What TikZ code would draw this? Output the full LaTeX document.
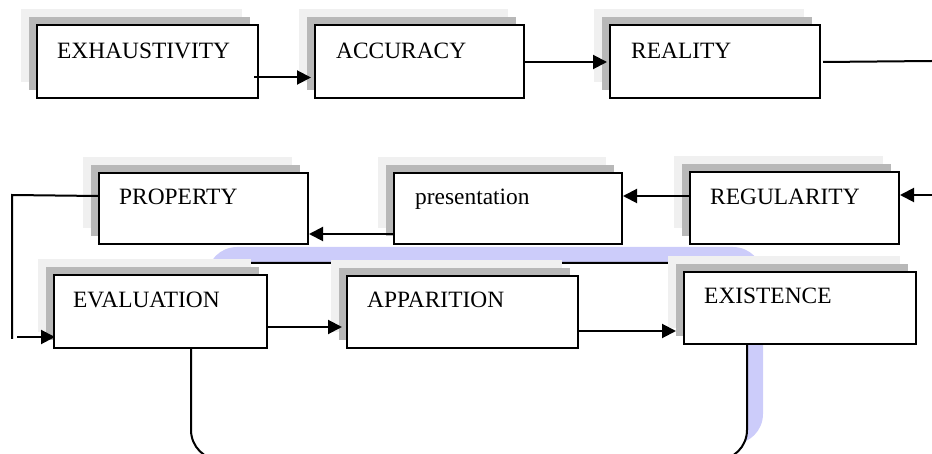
\documentclass[tikz,border=0pt]{standalone}
\usepackage{fontspec}
\setmainfont{Liberation Serif}
\usetikzlibrary{arrows.meta,shadows,calc}
\definecolor{shlight}{HTML}{F0F0F0}
\definecolor{shdark}{HTML}{B8B8B8}
\definecolor{hilite}{RGB}{204,204,250}
\tikzset{
  box/.style={draw=black, line width=2pt, fill=white, rectangle, inner sep=0pt, anchor=north west,
    general shadow={fill=shlight, shadow xshift=-16pt, shadow yshift=16pt},
    general shadow={fill=shdark, shadow xshift=-8pt, shadow yshift=8pt}},
  lbl/.style={anchor=base west, inner sep=0pt, font=\fontsize{23.4}{28}\selectfont},
  conn/.style={line width=2pt},
  arr/.style={conn, -{Triangle[length=14pt,width=14pt]}},
}
\begin{document}
\begin{tikzpicture}[x=1pt,y=-1pt]
\useasboundingbox (0,0) rectangle (932,454);
% highlighted rounded frame
\fill[hilite, rounded corners=30pt] (207,247) rectangle (763,444);
\draw[line width=2pt, fill=white, rounded corners=30pt] (191,263) rectangle (747,460);
% boxes
\node[box, minimum width=221pt, minimum height=73pt] (ex)  at (36,24) {};
\node[box, minimum width=209pt, minimum height=73pt] (acc) at (314,24) {};
\node[box, minimum width=210pt, minimum height=73pt] (rea) at (609,24) {};
\node[box, minimum width=209pt, minimum height=71pt] (prop) at (98,172) {};
\node[box, minimum width=228pt, minimum height=71pt] (pres) at (393,172) {};
\node[box, minimum width=209pt, minimum height=72pt] (reg) at (689,171) {};
\node[box, minimum width=213pt, minimum height=73pt] (eva) at (53,274) {};
\node[box, minimum width=231pt, minimum height=72pt] (app) at (346,275) {};
\node[box, minimum width=232pt, minimum height=72pt] (exi) at (683,271) {};
% labels
\node[lbl] (exT)   at ([xshift=21pt,yshift=-35pt]ex.north west) {EXHAUSTIVITY};
\node[lbl] (accT)  at ([xshift=22pt,yshift=-35pt]acc.north west) {ACCURACY};
\node[lbl] (reaT)  at ([xshift=22pt,yshift=-35pt]rea.north west) {REALITY};
\node[lbl] (propT) at ([xshift=21pt,yshift=-33pt]prop.north west) {PROPERTY};
\node[lbl] (presT) at ([xshift=22pt,yshift=-33pt]pres.north west) {presentation};
\node[lbl] (regT)  at ([xshift=21pt,yshift=-34pt]reg.north west) {REGULARITY};
\node[lbl] (evaT)  at ([xshift=20pt,yshift=-34pt]eva.north west) {EVALUATION};
\node[lbl] (appT)  at ([xshift=21pt,yshift=-33pt]app.north west) {APPARITION};
\node[lbl] (exiT)  at ([xshift=21pt,yshift=-33pt]exi.north west) {EXISTENCE};
% free ends
\coordinate (r1) at (932,61);
\coordinate (r2) at (932,195);
\coordinate (l1) at (12,195);
\coordinate (l2) at (12,339);
\coordinate (l3) at (17,337);
% connectors
\draw[arr, shorten >=3pt] ([xshift=-5pt,yshift=-16pt]ex.east) -- ([yshift=-16pt]acc.west);
\draw[arr, shorten >=2pt] ([yshift=-0.5pt]acc.east) -- ([yshift=-0.5pt]rea.west);
\draw[conn] ([xshift=2pt,yshift=-0.5pt]rea.east) -- (r1);
\draw[arr] (r2) -- (r2 -| reg.east);
\draw[arr] ([yshift=12pt]reg.west) -- ([yshift=12pt]reg.west -| pres.east);
\draw[arr] ([yshift=-25.5pt]pres.west) -- ([yshift=-25.5pt]pres.west -| prop.east);
\draw[conn] ([yshift=12.5pt]prop.west) -- (l1) -- (l2);
\draw[arr, shorten >=-2pt] (l3) -- (l3 -| eva.west);
\draw[arr, shorten >=4pt] ([yshift=-15.5pt]eva.east) -- ([yshift=-15.5pt]eva.east -| app.west);
\draw[arr, shorten >=7pt] ([yshift=-19pt]app.east) -- ([yshift=-19pt]app.east -| exi.west);
\end{tikzpicture}
\end{document}
